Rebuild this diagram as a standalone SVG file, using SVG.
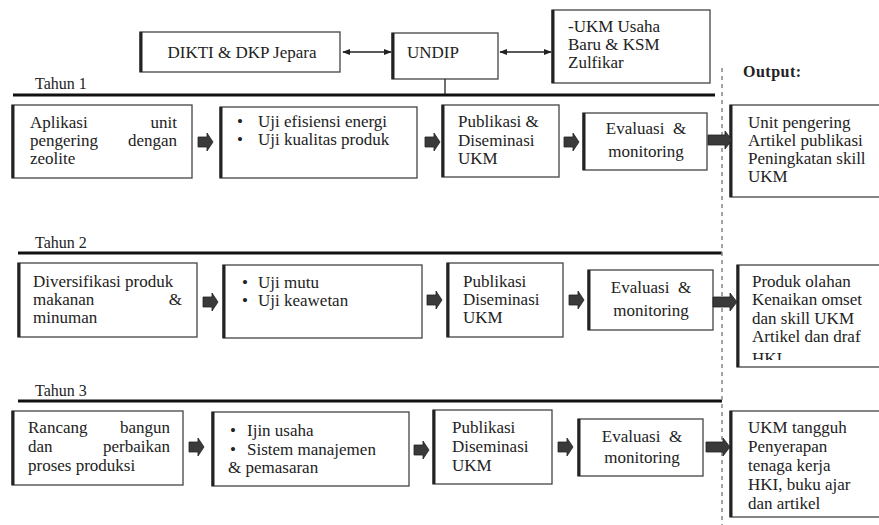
<svg xmlns="http://www.w3.org/2000/svg" width="879" height="525" viewBox="0 0 879 525">
<style>
.yr{font-size:16px}
.out{font-weight:bold;font-size:16px;letter-spacing:0.5px}
.box{fill:#fff;stroke:#444;stroke-width:1.3}
.lb{stroke:#222;stroke-width:3;fill:none}
.yl{stroke:#111;stroke-width:3}
.dash{stroke:#888;stroke-width:1.5;stroke-dasharray:4 4;fill:none}
.conn{stroke:#222;stroke-width:1.3;fill:none}
.ba{fill:#3a3a3a;stroke:#222;stroke-width:0.8}
.mid{text-anchor:middle}
.end{text-anchor:end}
</style>
<defs>
<marker id="ah" viewBox="0 0 10 10" refX="9" refY="5" markerWidth="8" markerHeight="8" orient="auto-start-reverse" markerUnits="userSpaceOnUse">
<path d="M0,1 L10,5 L0,9 Z" fill="#222"/>
</marker>
<path id="sa" d="M0,-5 H9 V-9 L15,0 L9,9 V5 H0 Z"/>
<path id="la" d="M0,-5 H17 V-9 L24,0 L17,9 V5 H0 Z"/>
<clipPath id="clipO2"><rect x="730" y="263" width="160" height="97"/></clipPath>
</defs>
<rect width="879" height="525" fill="#fff"/>
<g font-family="Liberation Serif, Times New Roman, serif" font-size="17" fill="#222">

<g id="layout">
<line class="yl" x1="13" y1="95" x2="715" y2="95"/>
<line class="yl" x1="18" y1="253" x2="722" y2="253"/>
<line class="yl" x1="18" y1="401" x2="722" y2="401"/>
<line class="dash" x1="722" y1="68" x2="722" y2="525"/>
<text class="yr" x="35" y="89">Tahun 1</text>
<text class="yr" x="35" y="248">Tahun 2</text>
<text class="yr" x="35" y="396">Tahun 3</text>
<text class="out" x="743" y="77">Output:</text>
</g>

<g id="dikti">
<rect class="box" x="140" y="32" width="200" height="40"/>
<line class="lb" x1="141" y1="32" x2="141" y2="72"/>
<text class="mid" x="242" y="58">DIKTI &amp; DKP Jepara</text>
</g>
<g id="undip">
<rect class="box" x="392" y="33" width="106" height="46"/>
<line class="lb" x1="393" y1="33" x2="393" y2="79"/>
<text x="407" y="58">UNDIP</text>
</g>
<g id="ukm">
<rect class="box" x="552" y="10" width="158" height="73"/>
<line class="lb" x1="553" y1="10" x2="553" y2="83"/>
<text x="568" y="32">-UKM Usaha</text>
<text x="568" y="50">Baru &amp; KSM</text>
<text x="568" y="68">Zulfikar</text>
</g>

<g id="t1-apl">
<rect class="box" x="12" y="105" width="180" height="73"/>
<line class="lb" x1="13" y1="105" x2="13" y2="178"/>
<text x="30" y="128">Aplikasi</text><text class="end" x="177" y="128">unit</text>
<text x="30" y="146">pengering</text><text class="end" x="177" y="146">dengan</text>
<text x="30" y="164">zeolite</text>
</g>
<g id="t1-uji">
<rect class="box" x="220" y="107" width="197" height="71"/>
<line class="lb" x1="221" y1="107" x2="221" y2="178"/>
<text x="237" y="127">•</text><text x="258" y="127">Uji efisiensi energi</text>
<text x="237" y="145">•</text><text x="258" y="145">Uji kualitas produk</text>
</g>
<g id="t1-pub">
<rect class="box" x="442" y="105" width="117" height="72"/>
<line class="lb" x1="443" y1="105" x2="443" y2="177"/>
<text x="458" y="127">Publikasi &amp;</text>
<text x="458" y="146">Diseminasi</text>
<text x="458" y="164">UKM</text>
</g>
<g id="t1-eval">
<rect class="box" x="583" y="113" width="124" height="57"/>
<line class="lb" x1="584" y1="113" x2="584" y2="170"/>
<text class="mid" x="646" y="134" xml:space="preserve">Evaluasi  &amp;</text>
<text class="mid" x="646" y="157">monitoring</text>
</g>
<g id="t1-out">
<rect class="box" x="730" y="105" width="160" height="92"/>
<line class="lb" x1="731" y1="105" x2="731" y2="197"/>
<text x="748" y="128">Unit pengering</text>
<text x="748" y="146">Artikel publikasi</text>
<text x="748" y="164">Peningkatan skill</text>
<text x="748" y="182">UKM</text>
</g>

<g id="t2-div">
<rect class="box" x="18" y="263" width="179" height="74"/>
<line class="lb" x1="19" y1="263" x2="19" y2="337"/>
<text x="33" y="287">Diversifikasi produk</text>
<text x="33" y="305">makanan</text><text class="end" x="182" y="305">&amp;</text>
<text x="33" y="323">minuman</text>
</g>
<g id="t2-uji">
<rect class="box" x="223" y="265" width="199" height="73"/>
<line class="lb" x1="224" y1="265" x2="224" y2="338"/>
<text x="242" y="288">•</text><text x="258" y="288">Uji mutu</text>
<text x="242" y="306">•</text><text x="258" y="306">Uji keawetan</text>
</g>
<g id="t2-pub">
<rect class="box" x="447" y="263" width="116" height="74"/>
<line class="lb" x1="448" y1="263" x2="448" y2="337"/>
<text x="463" y="287">Publikasi</text>
<text x="463" y="305">Diseminasi</text>
<text x="463" y="323">UKM</text>
</g>
<g id="t2-eval">
<rect class="box" x="588" y="270" width="125" height="60"/>
<line class="lb" x1="589" y1="270" x2="589" y2="330"/>
<text class="mid" x="651" y="293" xml:space="preserve">Evaluasi  &amp;</text>
<text class="mid" x="651" y="316">monitoring</text>
</g>
<g id="t2-out">
<rect class="box" x="737" y="265" width="160" height="102"/>
<line class="lb" x1="738" y1="265" x2="738" y2="367"/>
<g clip-path="url(#clipO2)">
<text x="752" y="287">Produk olahan</text>
<text x="752" y="305">Kenaikan omset</text>
<text x="752" y="324">dan skill UKM</text>
<text x="752" y="342">Artikel dan draf</text>
<text x="752" y="364">HKI</text>
</g>
</g>

<g id="t3-ran">
<rect class="box" x="12" y="411" width="171" height="74"/>
<line class="lb" x1="13" y1="411" x2="13" y2="485"/>
<text x="28" y="433">Rancang</text><text class="end" x="170" y="433">bangun</text>
<text x="28" y="452">dan</text><text class="end" x="170" y="452">perbaikan</text>
<text x="28" y="471">proses produksi</text>
</g>
<g id="t3-ijin">
<rect class="box" x="212" y="412" width="197" height="74"/>
<line class="lb" x1="213" y1="412" x2="213" y2="486"/>
<text x="230" y="436">•</text><text x="247" y="436">Ijin usaha</text>
<text x="230" y="455">•</text><text x="247" y="455">Sistem manajemen</text>
<text x="228" y="473">&amp; pemasaran</text>
</g>
<g id="t3-pub">
<rect class="box" x="433" y="410" width="119" height="74"/>
<line class="lb" x1="434" y1="410" x2="434" y2="484"/>
<text x="452" y="433">Publikasi</text>
<text x="452" y="452">Diseminasi</text>
<text x="452" y="471">UKM</text>
</g>
<g id="t3-eval">
<rect class="box" x="578" y="419" width="125" height="57"/>
<line class="lb" x1="579" y1="419" x2="579" y2="476"/>
<text class="mid" x="642" y="442" xml:space="preserve">Evaluasi  &amp;</text>
<text class="mid" x="642" y="463">monitoring</text>
</g>
<g id="t3-out">
<rect class="box" x="730" y="411" width="160" height="106"/>
<line class="lb" x1="731" y1="411" x2="731" y2="517"/>
<text x="748" y="433">UKM tangguh</text>
<text x="748" y="452">Penyerapan</text>
<text x="748" y="471">tenaga kerja</text>
<text x="748" y="490">HKI, buku ajar</text>
<text x="748" y="509">dan artikel</text>
</g>

<g id="connectors">
<line class="conn" x1="343" y1="52" x2="391" y2="52" marker-start="url(#ah)" marker-end="url(#ah)"/>
<line class="conn" x1="500" y1="52" x2="551" y2="52" marker-start="url(#ah)" marker-end="url(#ah)"/>
<line class="conn" x1="445" y1="79" x2="445" y2="94"/>
<use href="#sa" class="ba" x="198" y="142"/>
<use href="#sa" class="ba" x="425" y="142"/>
<use href="#sa" class="ba" x="564" y="142"/>
<use href="#la" class="ba" x="708" y="140"/>
<use href="#sa" class="ba" x="203" y="302"/>
<use href="#sa" class="ba" x="427" y="300"/>
<use href="#sa" class="ba" x="569" y="300"/>
<use href="#la" class="ba" x="713" y="302"/>
<use href="#sa" class="ba" x="189" y="447"/>
<use href="#sa" class="ba" x="414" y="450"/>
<use href="#sa" class="ba" x="558" y="447"/>
<use href="#la" class="ba" x="706" y="447"/>
</g>
</g>
</svg>
